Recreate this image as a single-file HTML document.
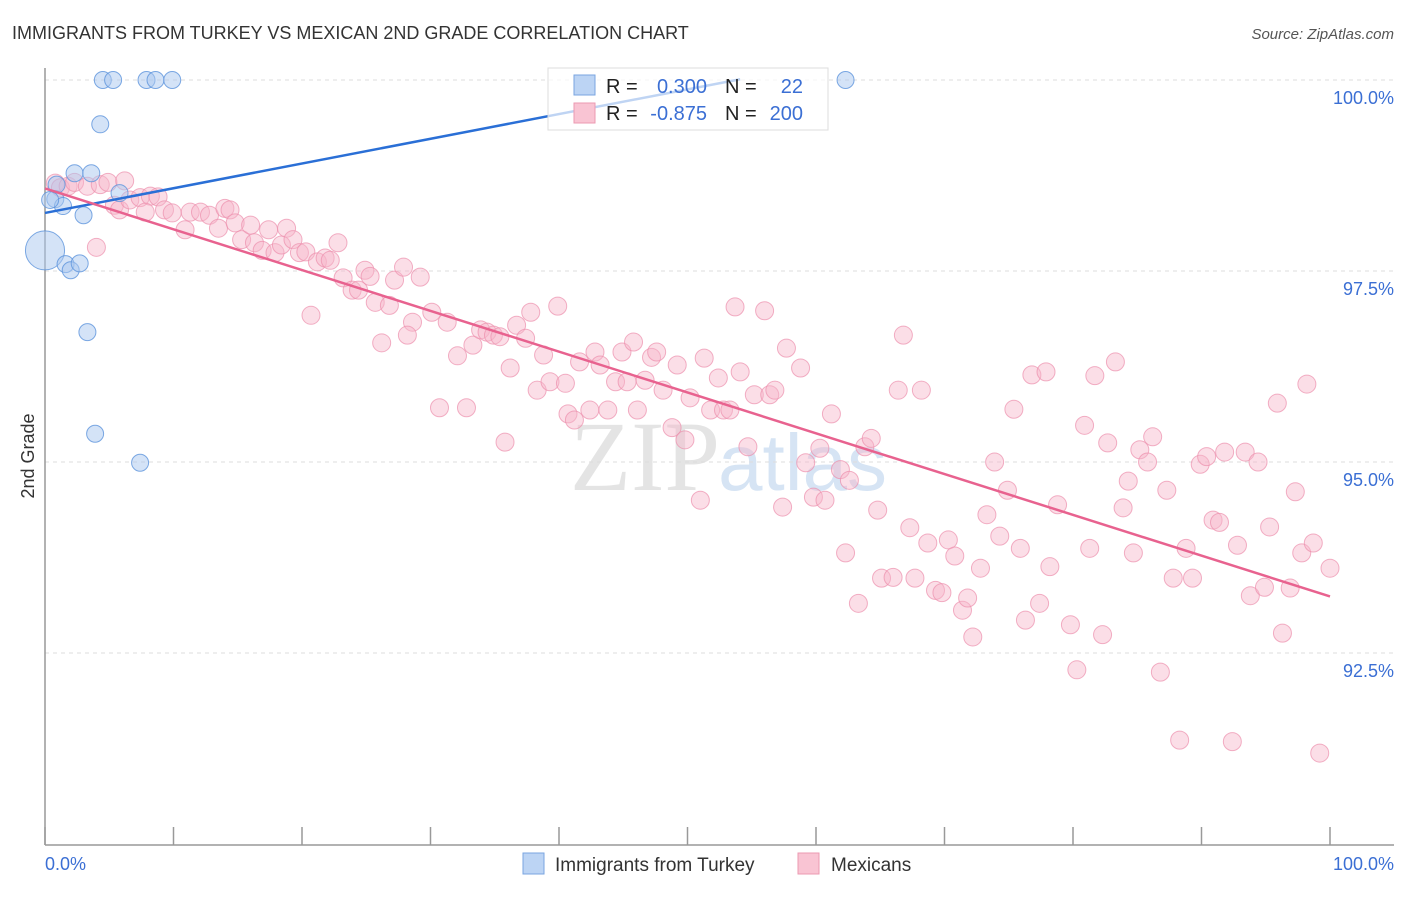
<!DOCTYPE html>
<html><head><meta charset="utf-8"><style>
body{margin:0;background:#fff;font-family:"Liberation Sans",sans-serif;}
</style></head><body>
<svg width="1406" height="892" xmlns="http://www.w3.org/2000/svg" font-family="Liberation Sans, sans-serif">
<text x="12" y="39" font-size="18" fill="#333">IMMIGRANTS FROM TURKEY VS MEXICAN 2ND GRADE CORRELATION CHART</text>
<text x="1394" y="39" font-size="15" fill="#555" font-style="italic" text-anchor="end">Source: ZipAtlas.com</text>
<text x="720" y="490" font-size="100" fill="#e4e4e4" text-anchor="end" font-family="Liberation Serif, serif">ZIP</text>
<text x="718" y="490" font-size="80" fill="#d6e4f4">atlas</text>
<g id="grid"></g>
<g id="axes"></g>
<g id="pts"></g>
<g id="trends"></g>
<text transform="translate(34,456) rotate(-90)" font-size="18" fill="#333" text-anchor="middle">2nd Grade</text>
<text x="45" y="870" font-size="18" fill="#3b6fd4">0.0%</text>
<text x="1394" y="870" font-size="18" fill="#3b6fd4" text-anchor="end">100.0%</text>
<g>
<rect x="548" y="68" width="280" height="62" fill="#fff" fill-opacity="0.7" stroke="#ddd"/>
<rect x="574" y="75" width="21" height="20" fill="#bcd4f4" stroke="#7aa5e0"/>
<rect x="574" y="103" width="21" height="20" fill="#f9c4d3" stroke="#ec9ab2"/>
<text x="606" y="93" font-size="20" fill="#222">R =</text>
<text x="707" y="93" font-size="20" fill="#3b6fd4" text-anchor="end">0.300</text>
<text x="725" y="93" font-size="20" fill="#222">N =</text>
<text x="803" y="93" font-size="20" fill="#3b6fd4" text-anchor="end">22</text>
<text x="606" y="120" font-size="20" fill="#222">R =</text>
<text x="707" y="120" font-size="20" fill="#3b6fd4" text-anchor="end">-0.875</text>
<text x="725" y="120" font-size="20" fill="#222">N =</text>
<text x="803" y="120" font-size="20" fill="#3b6fd4" text-anchor="end">200</text>
</g>
<g>
<rect x="523" y="853" width="21" height="21" fill="#bcd4f4" stroke="#7aa5e0"/>
<text x="555" y="871" font-size="19" fill="#333">Immigrants from Turkey</text>
<rect x="798" y="853" width="21" height="21" fill="#f9c4d3" stroke="#ec9ab2"/>
<text x="831" y="871" font-size="19" fill="#333">Mexicans</text>
</g>
</svg>
<script>
const yTicks=[100,97.5,95,92.5];
const yTickLabels=["100.0%","97.5%","95.0%","92.5%"];
const xTicks=[0,10,20,30,40,50,60,70,80,90,100];
const blueX=[4.5,5.3,7.9,8.6,9.9,62.3,4.3,2.3,3.6,0.8,1.4,3.0,5.8,0,1.6,2.0,2.7,3.3,3.9,7.4,0.4,0.9];
const blueY=[100,100,100,100,100,100,99.42,98.78,98.78,98.44,98.35,98.23,98.52,97.77,97.59,97.51,97.60,96.70,95.37,94.99,98.43,98.63];
const blueSize=[1,1,1,1,1,1,1,1,1,1,1,1,1,2.3,1,1,1,1,1,1,1,1];
const pinkX=[0.8,1.2,1.8,2.3,3.3,4.3,4.9,6.2,5.4,5.8,6.6,7.4,8.2,8.8,7.8,9.3,9.9,10.9,11.3,12.1,12.8,13.5,14.0,14.4,14.8,15.3,16.0,16.3,16.9,17.4,17.9,18.4,18.8,19.3,19.8,20.3,21.2,21.8,22.2,22.8,23.2,23.9,24.4,24.9,25.3,25.7,26.8,27.2,27.9,28.6,29.2,28.2,30.1,31.3,30.7,32.1,32.8,33.3,33.9,34.4,34.9,35.4,35.8,36.2,36.7,37.4,37.8,38.3,38.8,39.3,39.9,40.5,40.7,41.2,41.6,42.4,42.8,43.2,43.8,44.4,44.9,45.3,45.8,46.1,46.7,47.2,47.6,48.1,48.8,49.2,49.8,50.2,51.0,51.3,51.8,52.4,52.8,53.3,53.7,54.1,54.7,55.2,56.0,56.4,56.8,57.4,57.7,58.8,59.2,59.8,60.3,60.7,61.2,61.9,62.3,62.6,63.3,63.8,64.3,64.8,65.1,66.0,66.4,66.8,67.3,67.7,68.2,68.7,69.3,69.8,70.3,70.8,71.4,71.8,72.2,72.8,73.3,73.9,74.3,74.9,75.4,75.9,76.3,76.8,77.4,77.9,78.2,78.8,79.8,80.3,80.9,81.3,81.7,82.3,82.7,83.3,83.9,84.3,84.7,85.2,85.8,86.2,86.8,87.3,87.8,88.3,88.8,89.3,89.9,90.4,90.9,91.4,91.8,92.4,92.8,93.4,93.8,94.4,94.9,95.3,95.9,96.3,96.9,97.3,97.8,98.2,98.7,99.2,100.0,4.0,20.7,26.2];
const pinkY=[98.65,98.59,98.61,98.66,98.61,98.63,98.66,98.68,98.36,98.30,98.43,98.46,98.48,98.47,98.27,98.30,98.26,98.04,98.27,98.27,98.23,98.06,98.32,98.30,98.13,97.91,98.10,97.87,97.77,98.04,97.74,97.84,98.06,97.91,97.74,97.75,97.62,97.67,97.64,97.87,97.41,97.25,97.25,97.51,97.43,97.09,97.05,97.38,97.55,96.83,97.42,96.66,96.96,96.83,95.71,96.39,95.71,96.53,96.73,96.70,96.66,96.64,95.26,96.23,96.79,96.62,96.96,95.94,96.40,96.05,97.04,96.03,95.63,95.55,96.31,95.68,96.44,96.27,95.68,96.05,96.44,96.05,96.57,95.68,96.07,96.37,96.44,95.94,95.45,96.27,95.29,95.84,94.50,96.36,95.68,96.10,95.68,95.68,97.03,96.18,95.20,95.88,96.98,95.88,95.94,94.41,96.49,96.23,94.99,94.54,95.18,94.50,95.63,94.90,93.81,94.76,93.15,95.20,95.31,94.37,93.48,93.49,95.94,96.66,94.14,93.48,95.94,93.94,93.32,93.29,93.98,93.77,93.06,93.22,92.71,93.61,94.31,95.00,94.03,94.63,95.69,93.87,92.93,96.14,93.15,96.18,93.63,94.44,92.87,92.28,95.48,93.87,96.13,92.74,95.25,96.31,94.40,94.75,93.81,95.16,95.00,95.33,92.25,94.63,93.48,91.36,93.87,93.48,94.97,95.07,94.24,94.21,95.13,91.34,93.91,95.13,93.25,95.00,93.36,94.15,95.77,92.76,93.35,94.61,93.81,96.02,93.94,91.19,93.61,97.81,96.92,96.56];
const blueTrendX=[0,54.1];
const blueTrendY=[98.26,100.01];
const pinkTrendX=[0,100];
const pinkTrendY=[98.58,93.24];

const X0=45,X1=1330,Y0=80,PX_PER=76.4;
const sx=v=>X0+(X1-X0)*v/100;
const sy=v=>Y0+(100-v)*PX_PER;
const NS="http://www.w3.org/2000/svg";
function mk(tag,parent,attrs){const e=document.createElementNS(NS,tag);for(const k in attrs)e.setAttribute(k,attrs[k]);parent.appendChild(e);return e;}
const grid=document.getElementById('grid'),axes=document.getElementById('axes'),pts=document.getElementById('pts'),tr=document.getElementById('trends');
yTicks.forEach((t,i)=>{
  const l=mk('line',grid,{x1:45,x2:1394,y1:sy(t),y2:sy(t),stroke:'#ddd','stroke-dasharray':'4,4'});
  
  
  const tx=mk('text',grid,{x:1394,y:sy(t)+24,'font-size':18,fill:'#3b6fd4','text-anchor':'end'});
  tx.textContent=yTickLabels[i];
  
  
});
const ya=mk('line',axes,{x1:45,x2:45,y1:68,y2:845,stroke:'#999','stroke-width':1.5});


const xa=mk('line',axes,{x1:45,x2:1394,y1:845,y2:845,stroke:'#999','stroke-width':1.5});


xTicks.forEach(t=>{
  const l=mk('line',axes,{x1:sx(t),x2:sx(t),y1:827,y2:845,stroke:'#999','stroke-width':1.5});
  
  
});
pinkX.forEach((x,i)=>{
  const c=mk('circle',pts,{cx:sx(x),cy:sy(pinkY[i]),r:9,fill:'#f7b6c9','fill-opacity':0.45,stroke:'#ec8fad','stroke-opacity':0.7});
  
  
});
blueX.forEach((x,i)=>{
  const c=mk('circle',pts,{cx:sx(x),cy:sy(blueY[i]),r:8.5*blueSize[i],fill:'#a9c8f0','fill-opacity':0.5,stroke:'#5d93dc','stroke-opacity':0.8});
  
  
});
const bl=mk('line',tr,{x1:sx(blueTrendX[0]),y1:sy(blueTrendY[0]),x2:sx(blueTrendX[1]),y2:sy(blueTrendY[1]),stroke:'#2a6fd6','stroke-width':2.5});


const pl=mk('line',tr,{x1:sx(pinkTrendX[0]),y1:sy(pinkTrendY[0]),x2:sx(pinkTrendX[1]),y2:sy(pinkTrendY[1]),stroke:'#e8628f','stroke-width':2.5});


</script>
</body></html>
